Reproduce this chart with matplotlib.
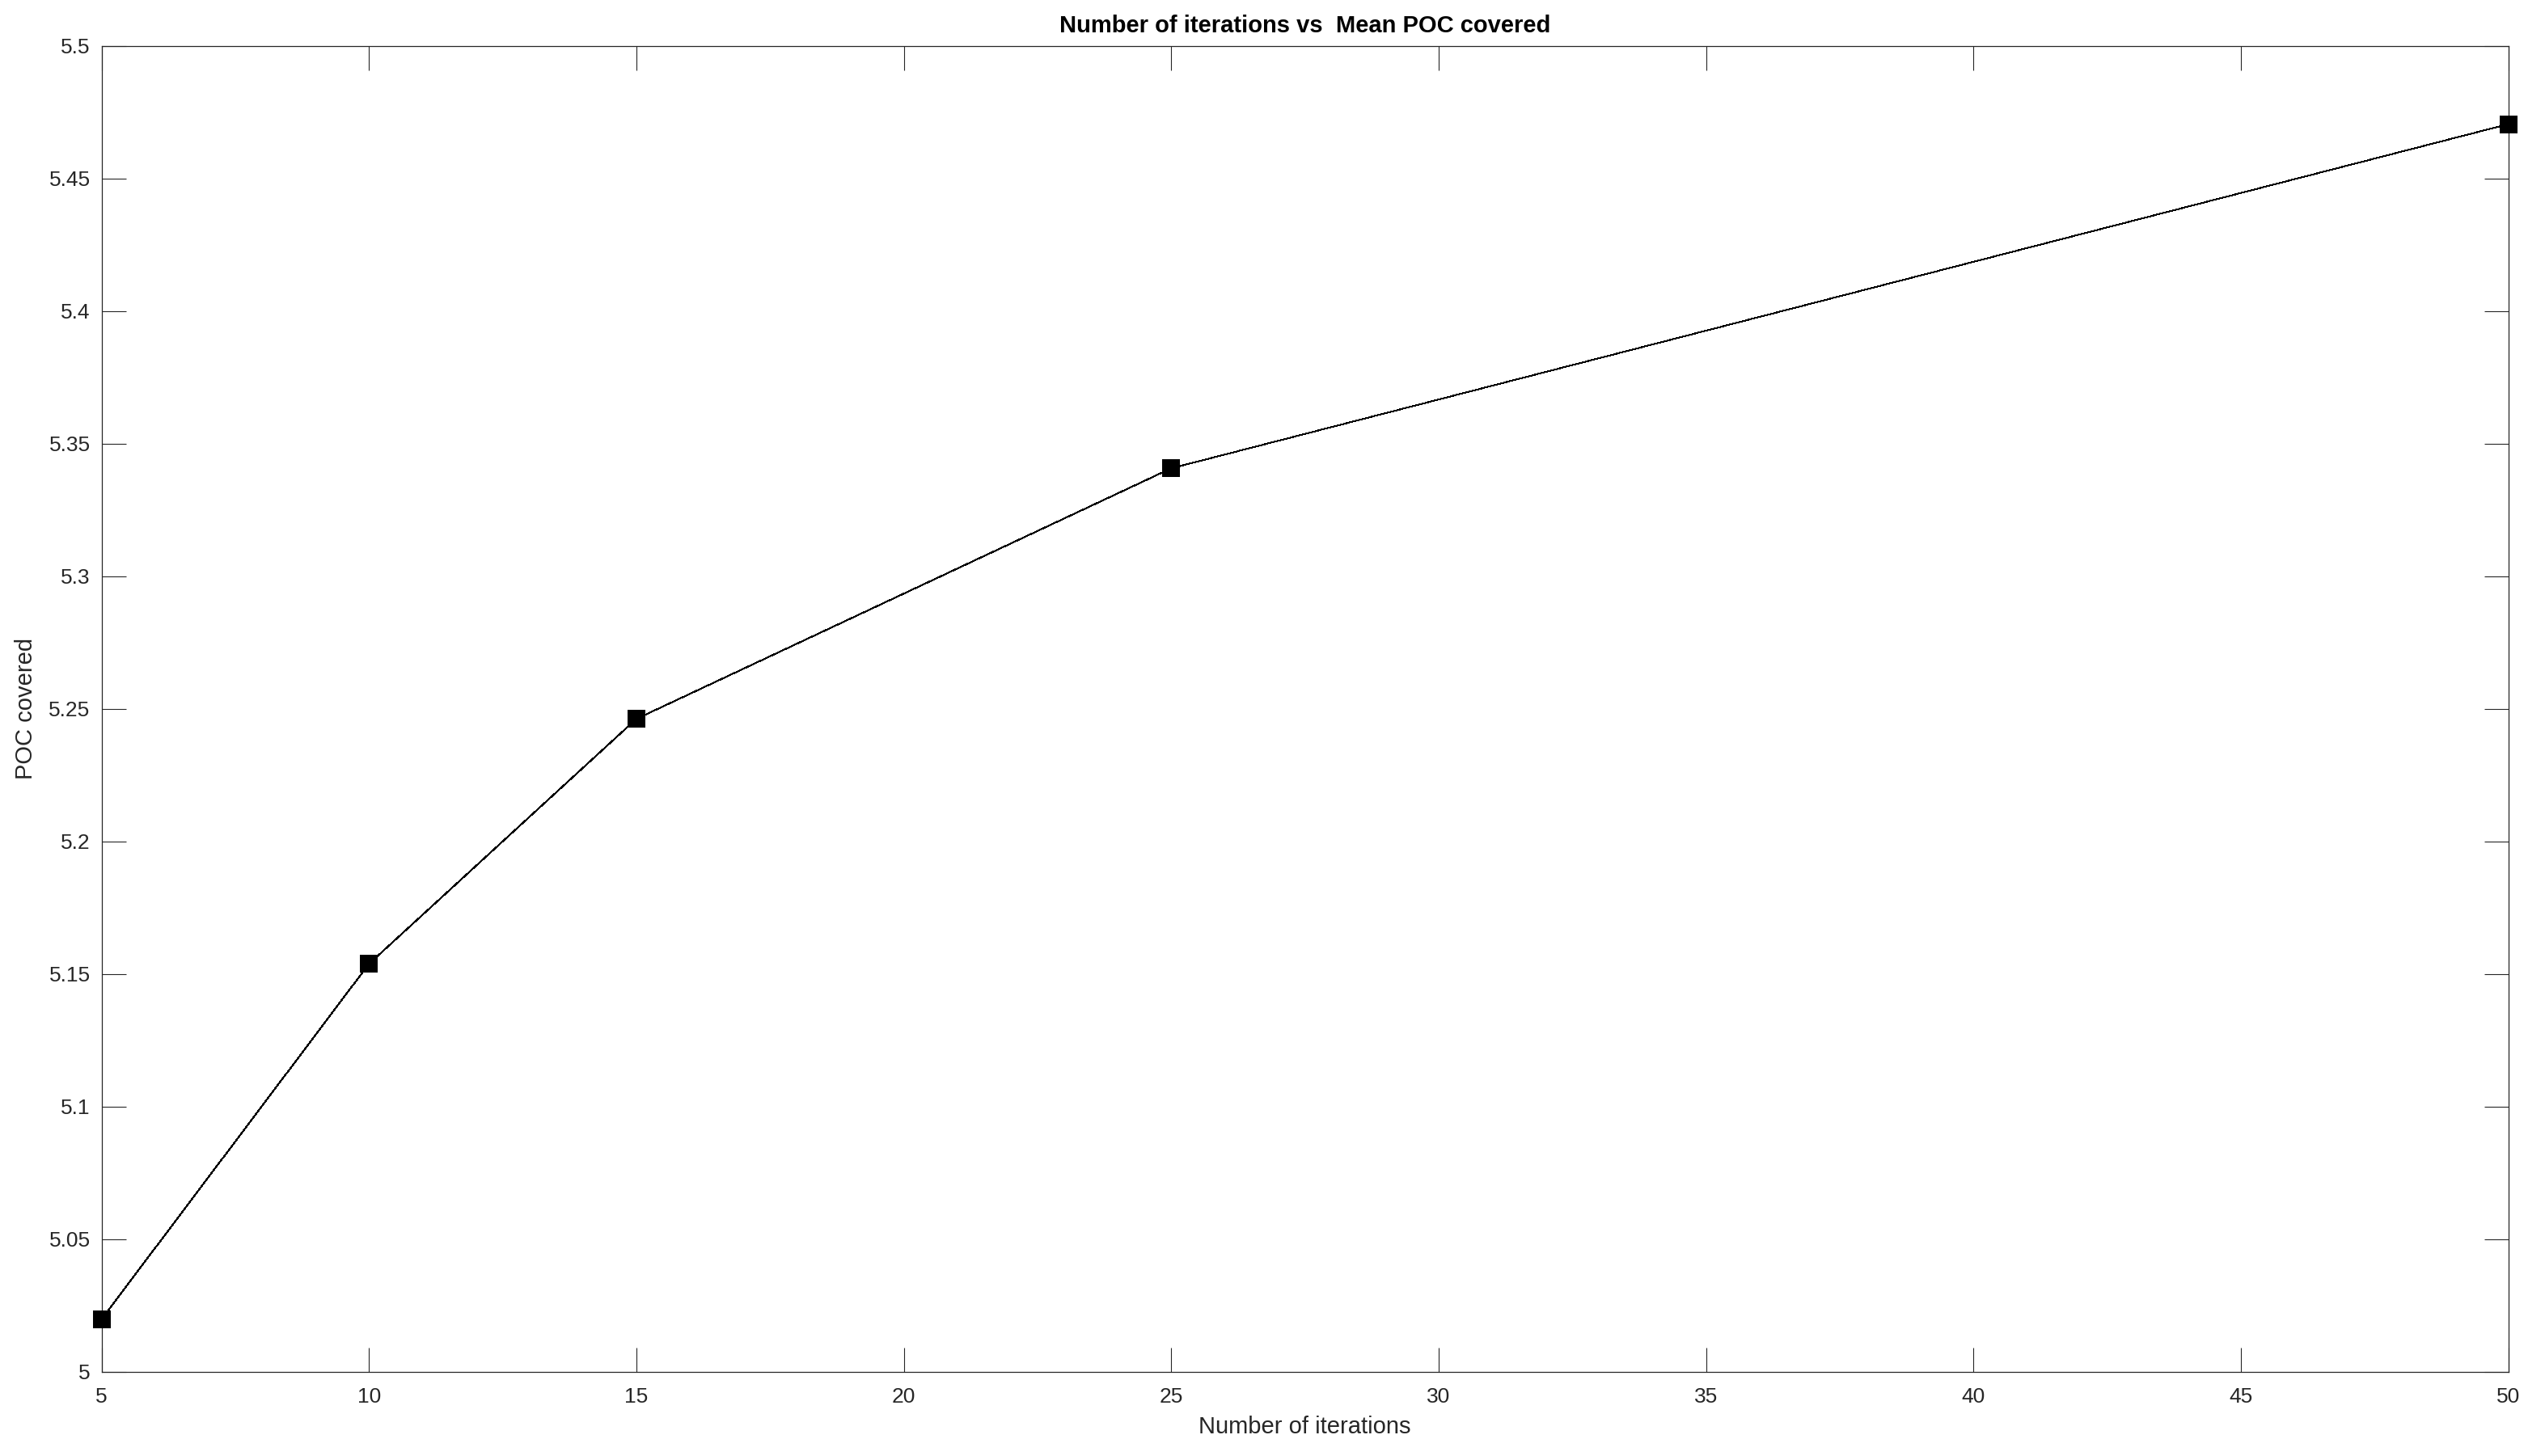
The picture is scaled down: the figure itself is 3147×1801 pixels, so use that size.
import matplotlib
matplotlib.use("Agg")
import matplotlib.pyplot as plt
from matplotlib.ticker import FuncFormatter

iterations = [5, 10, 15, 25, 50]
mean_poc = [5.0197, 5.1537, 5.2461, 5.3406, 5.4704]
x_ticks = [5, 10, 15, 20, 25, 30, 35, 40, 45, 50]
y_ticks = [5.0, 5.05, 5.1, 5.15, 5.2, 5.25, 5.3, 5.35, 5.4, 5.45, 5.5]

plt.rcParams['font.family'] = ['Liberation Sans', 'DejaVu Sans']

W, H = 3147, 1801
dpi = 100
fig = plt.figure(figsize=(W / dpi, H / dpi), dpi=dpi)
left, right, top, bottom = 125.5, 3101.5, 56.5, 1696.5
ax = fig.add_axes([left / W, 1 - bottom / H, (right - left) / W, (bottom - top) / H])

ax.plot(iterations, mean_poc, color='black', linewidth=0.72,
        antialiased=False, clip_on=False, zorder=3)
ax.plot(iterations, mean_poc, linestyle='none', marker='s',
        markersize=15.5, markerfacecolor='black', markeredgecolor='black',
        markeredgewidth=0, clip_on=False, zorder=4)

ax.set_xlim(5, 50)
ax.set_ylim(5.0, 5.5)
ax.set_xticks(x_ticks)
ax.set_yticks(y_ticks)
fmt = FuncFormatter(lambda v, p: ('%g' % round(v, 4)))
ax.xaxis.set_major_formatter(fmt)
ax.yaxis.set_major_formatter(fmt)

ax.tick_params(direction='in', length=21.6, width=0.8, color='#262626',
               labelsize=19, labelcolor='#262626', top=True, right=True,
               pad=10)
ax.tick_params(axis='x', pad=14)
for s in ax.spines.values():
    s.set_color('#262626')
    s.set_linewidth(0.9)

ax.set_title('Number of iterations vs  Mean POC covered', fontsize=21,
             fontweight='bold', pad=12)
ax.set_xlabel('Number of iterations', fontsize=21, color='#262626', labelpad=8)
ax.set_ylabel('POC covered', fontsize=21, color='#262626', labelpad=10)

fig.savefig('out.png', dpi=dpi)
